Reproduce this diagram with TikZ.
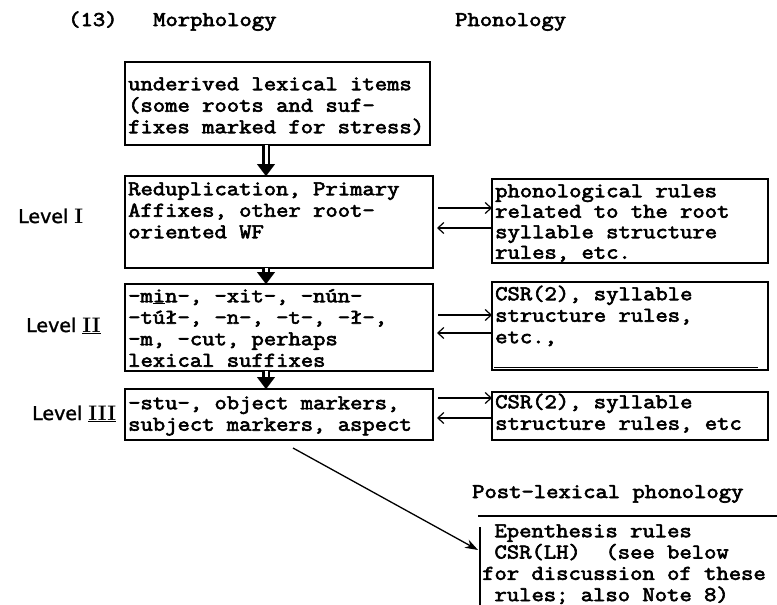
\documentclass[tikz,border=0pt]{standalone}
\usepackage{fontspec}
\newfontfamily\twf{Latin Modern Mono}[FakeStretch=1.14, FakeBold=3]
\newfontfamily\hwf{DejaVu Sans}[FakeBold=1.5]
\usetikzlibrary{arrows.meta,calc}
\newcommand\twsize[1]{\twf\fontsize{21}{#1}\selectfont\lineskiplimit=-100pt\lineskip=0pt}
\newcommand\fl{\rule{0pt}{17pt}}
\newcommand\numfont{\rmfamily\bfseries\fontsize{21}{22}\selectfont}
\tikzset{
  box/.style={draw, line width=1.6pt, inner sep=0pt, outer sep=0pt},
  txt/.style={anchor=north west, inner sep=0pt, align=left, font=\twsize{21.5pt}},
  ttl/.style={anchor=base west, inner sep=0pt, font=\twsize{21.5pt}},
  lvl/.style={anchor=base west, inner sep=0pt, font=\hwf\fontsize{19}{22}\selectfont},
  dshaft/.style={line width=2.8pt, double distance=3pt, shorten >=9pt},
  dhead/.style={line width=0.1pt, -{Triangle[length=12pt,width=18pt]}},
  harrow/.style={line width=1.2pt, -{Straight Barb[length=6pt,width=11pt]}},
  darrow/.style={line width=1.3pt, -{Stealth[length=13pt,width=9pt]}},
  openline/.style={line width=1.6pt}
}
\begin{document}
\begin{tikzpicture}[x=1pt,y=-1pt]
\useasboundingbox (0,0) rectangle (777,605);
% titles
\node[ttl] (n13) at (68,26) {(13)};
\node[ttl] (morph) at (153,26) {Morphology};
\node[ttl] (phon) at (455,26) {Phonology};
% left boxes
\node[box, minimum width=305pt, minimum height=83pt, anchor=north west] (b1) at (125,62) {};
\node[box, minimum width=308pt, minimum height=92pt, anchor=north west] (b2) at (125,176) {};
\node[box, minimum width=308pt, minimum height=87pt, anchor=north west] (b3) at (125,284) {};
\node[box, minimum width=308pt, minimum height=51pt, anchor=north west] (b4) at (125,389) {};
\node[txt] (t1) at (128,73) {\fl underived lexical items\\(some roots and suf-\\fixes marked for stress)};
\node[txt] (t2) at (128,178) {\fl Reduplication, Primary\\Affixes, other root-\\oriented WF};
\node[txt] (t3) at (128,285) {\fl -m\underline{i}n-, -xit-, -nún-\\-túł-, -n-, -t-, -ł-,\\-m, -cut, perhaps\\lexical suffixes};
\node[txt] (t4) at (128,392) {\fl -stu-, object markers,\\subject markers, aspect};
% right boxes
\node[box, minimum width=276pt, minimum height=84pt, anchor=north west] (p1) at (492,179) {};
\node[box, minimum width=276pt, minimum height=88pt, anchor=north west] (p2) at (492,282) {};
\node[box, minimum width=276pt, minimum height=48pt, anchor=north west] (p3) at (492,392) {};
\draw[line width=1pt] ($(p2.south west)+(2,-3)$) -- ($(p2.south east)+(-10,-3)$);
\node[txt, font=\twsize{20.5pt}] (s1) at (495,180) {\fl phonological rules\\related to the root\\syllable structure\\rules, etc.};
\node[txt] (s2) at (495,283) {\fl CSR(2), syllable\\structure rules,\\etc.,};
\node[txt] (s3) at (495,391) {\fl CSR(2), syllable\\structure rules, etc};
% level labels
\node[lvl] (lv1) at (18,223) {Level {\numfont I}};
\node[lvl] (lv2) at (26,332) {Level {\numfont\underline{II}}};
\node[lvl] (lv3) at (32,420) {Level {\numfont\underline{III}}};
% double arrows
\draw[dshaft] (266,0 |- b1.south) -- (266,0 |- b2.north);
\draw[dhead] ($(266,0 |- b2.north)+(0,-12)$) -- (266,0 |- b2.north);
\draw[dshaft] (266,0 |- b2.south) -- (266,0 |- b3.north);
\draw[dhead] ($(266,0 |- b3.north)+(0,-12)$) -- (266,0 |- b3.north);
\draw[dshaft] (266,0 |- b3.south) -- (266,0 |- b4.north);
\draw[dhead] ($(266,0 |- b4.north)+(0,-12)$) -- (266,0 |- b4.north);
% horizontal arrows
\draw[harrow, shorten <=5pt] (b2.east |- 0,208) -- (p1.west |- 0,208);
\draw[harrow, shorten >=4pt] (p1.west |- 0,228) -- (b2.east |- 0,228);
\draw[harrow, shorten <=5pt] (b3.east |- 0,315) -- (p2.west |- 0,315);
\draw[harrow, shorten >=4pt] (p2.west |- 0,333) -- (b3.east |- 0,333);
\draw[harrow, shorten <=5pt] (b4.east |- 0,398) -- (p3.west |- 0,398);
\draw[harrow, shorten >=4pt] (p3.west |- 0,418) -- (b4.east |- 0,418);
% post-lexical
\node[ttl] (post) at (472,498) {Post-lexical phonology};
\coordinate (pbtl) at (478,516);
\coordinate (pbtr) at (777,516);
\coordinate (pblt) at (480,527);
\coordinate (pblb) at (480,605);
\draw[openline] (pbtl) -- (pbtr);
\draw[openline] (pblt) -- (pblb);
\node[txt, font=\twsize{21.3pt}] (pb) at (482,520) {\fl\phantom{x}Epenthesis rules\\\phantom{x}CSR(LH)\ \ (see below\\for discussion of these\\\phantom{x}rules; also Note 8)};
\coordinate (dstart) at (293,448);
\coordinate (dend) at (478,550);
\draw[darrow] (dstart) -- (dend);
\end{tikzpicture}
\end{document}
